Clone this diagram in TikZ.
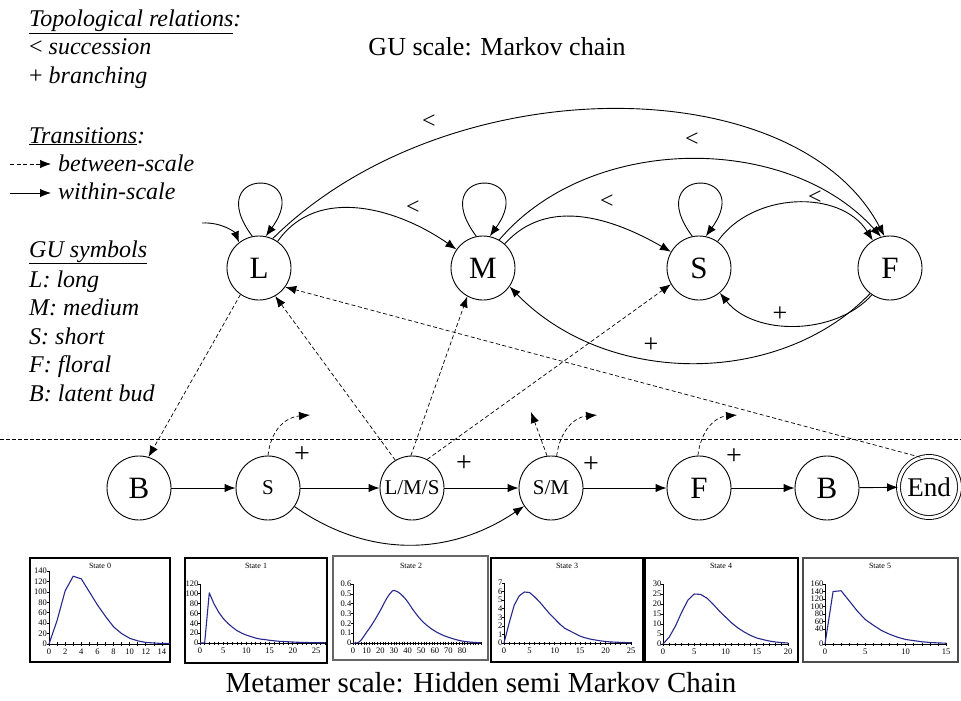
\documentclass[tikz,border=0pt]{standalone}
\usepackage{fontspec}
\setmainfont{Liberation Serif}
\usetikzlibrary{arrows.meta}
\definecolor{crvblue}{RGB}{40,40,140}
\begin{document}
\begin{tikzpicture}[x=1pt,y=1pt,
  st/.style={draw, circle, minimum size=64pt, inner sep=0pt, line width=0.9pt, font=\fontsize{31}{31}\selectfont},
  sst/.style={st, font=\fontsize{21}{21}\selectfont},
  tr/.style={-{Latex[length=11pt,width=8.5pt]}, line width=0.9pt},
  dtr/.style={tr, dash pattern=on 4pt off 2.5pt, line width=0.7pt},
  rel/.style={font=\fontsize{24}{24}\selectfont, inner sep=0pt},
  plus/.style={font=\fontsize{26}{26}\selectfont, inner sep=0pt},
  bplus/.style={font=\fontsize{28}{28}\selectfont, inner sep=0pt},
  leg/.style={anchor=base west, inner sep=0pt, font=\fontsize{24}{24}\selectfont\itshape},
  box/.style={draw, line width=1.2pt},
  ax/.style={line width=0.7pt},
  tk/.style={font=\fontsize{8.5}{8.5}\selectfont, inner sep=0pt},
  ttl/.style={font=\fontsize{8}{8}\selectfont, inner sep=0pt},
  crv/.style={draw=crvblue, line width=1.1pt, line join=round}
]
\useasboundingbox (0,0) rectangle (961,-701);

% ---------- legend ----------
\node[leg] (lg1) at (29,-27) {\underline{Topological relations}:};
\node[leg] (lg2) at (29,-55) {\textup{<} succession};
\node[leg] (lg3) at (29,-83) {\textup{+} branching};
\node[leg] (lg4) at (29,-143) {\underline{Transitions}:};
\node[leg] (lg5) at (58,-171) {between-scale};
\node[leg] (lg6) at (58,-199) {within-scale};
\coordinate (la1) at (10,-164); \coordinate (lb1) at (51,-164);
\coordinate (la2) at (10,-193); \coordinate (lb2) at (51,-193);
\draw[dtr] (la1) -- (lb1);
\draw[tr] (la2) -- (lb2);
\node[leg] (lg7) at (29,-257) {\underline{GU symbols}};
\node[leg] (lg8) at (29,-287) {L: long};
\node[leg] (lg9) at (29,-315) {M: medium};
\node[leg] (lg10) at (29,-344) {S: short};
\node[leg] (lg11) at (29,-372) {F: floral};
\node[leg] (lg12) at (29,-401) {B: latent bud};

% ---------- titles ----------
\node[anchor=base, inner sep=0pt, font=\fontsize{26}{26}\selectfont] (t1) at (497,-56) {GU scale: Markov chain};
\node[anchor=base, inner sep=0pt, font=\fontsize{29}{29}\selectfont] (t2) at (481,-692) {Metamer scale: Hidden semi Markov Chain};

% ---------- GU scale ----------
\node[st] (L) at (259,-268) {L};
\node[st] (M) at (483,-268) {M};
\node[st] (S) at (699,-268) {S};
\node[st] (F) at (890,-268) {F};

\foreach \n in {L,M,S}
  \draw[tr] (\n.102) .. controls +(-52,70) and +(50,69) .. (\n.78);
\coordinate (Lin) at (202,-223);
\draw[tr] (Lin) .. controls +(20,1) and +(-4,10) .. (L.128);

\draw[tr] (L) to[out=55,in=145] (M);
\draw[tr] (M) to[out=48,in=150] (S);
\draw[tr] (S) to[out=55,in=122] (F);
\draw[tr] (L.65) .. controls (446,-67) and (795,-67) .. (F.100);
\draw[tr] (M.60) .. controls (590,-133) and (788,-133) .. (F.106);
\draw[tr] (F.236) .. controls (835,-336) and (754,-336) .. (S.310);
\draw[tr] (F.232) .. controls (780,-387) and (607,-387) .. (M.-35);

\node[rel] at (429,-122) {<};
\node[rel] at (692,-140) {<};
\node[rel] at (413,-208) {<};
\node[rel] at (607,-202) {<};
\node[rel] at (815,-198) {<};
\node[plus] at (780,-314) {+};
\node[plus] at (651,-345) {+};

% ---------- separator ----------
\coordinate (sepa) at (0,-439); \coordinate (sepb) at (961,-439);
\draw[dash pattern=on 4pt off 2pt, line width=1pt] (sepa) -- (sepb);

% ---------- metamer scale ----------
\node[st] (B1) at (139,-488) {B};
\node[sst] (S2) at (268,-488) {S};
\node[sst] (LMS) at (412,-488) {L/M/S};
\node[sst] (SM) at (551,-488) {S/M};
\node[st] (F2) at (699,-488) {F};
\node[st] (B2) at (827,-488) {B};
\node[st, minimum size=61pt, double, double distance=3pt, font=\fontsize{27}{27}\selectfont] (End) at (929,-487) {End};

\draw[tr] (B1) -- (S2);
\draw[tr] (S2) -- (LMS);
\draw[tr] (LMS) -- (SM);
\draw[tr] (SM) -- (F2);
\draw[tr] (F2) -- (B2);
\draw[tr] (B2) -- (End);
\draw[tr] (S2) to[out=-35,in=-146] (SM);

\node[bplus] at (302,-455) {+};
\node[bplus] at (464,-464) {+};
\node[bplus] at (591,-465) {+};
\node[bplus] at (734,-457) {+};

% between-scale transitions
\draw[dtr] (L.235) -- (B1.73);
\draw[dtr] (LMS.121) -- (L.300);
\draw[dtr] (LMS.92) -- (M.241);
\draw[dtr] (LMS.62) -- (S.210);
\draw[dtr] (End.106) -- (L.324);

\coordinate (o1) at (310,-415);
\coordinate (o2) at (531,-412);
\coordinate (o3) at (597,-415);
\coordinate (o4) at (737,-415);
\draw[dtr] (S2.90) .. controls (271,-428) and (287,-417) .. (o1);
\draw[dtr] (SM.97) -- (o2);
\draw[dtr] (SM.80) .. controls (560,-430) and (575,-417) .. (o3);
\draw[dtr] (F2.92) .. controls (701,-430) and (715,-417) .. (o4);

% ---------- charts ----------
% State 0
\draw[box] (30,-558) rectangle (170,-662);
\node[ttl] at (100,-566) {State 0};
\begin{scope}[shift={(49,-644)}, x=8.07pt, y=0.5214pt]
  \draw[ax] (0,0) -- (15,0); \draw[ax] (0,0) -- (0,140);
  \foreach \i in {0,...,15} \draw[ax] (\i,0) +(0,2pt) -- +(0,-2pt);
  \foreach \v in {0,20,...,140} {\draw[ax] (0,\v) -- +(-2pt,0); \node[tk, anchor=east] at ([xshift=-2pt]0,\v) {\v};}
  \foreach \v in {0,2,...,14} \node[tk, anchor=north] at ([yshift=-5pt]\v,0) {\v};
  \draw[crv] (0,0) -- (1,45) -- (2,102) -- (3,130) -- (4,125) -- (5,100) -- (6,75) -- (7,53) -- (8,33) -- (9,20) -- (10,11) -- (11,6) -- (12,3) -- (13,2) -- (14,1) -- (15,1);
\end{scope}

% State 1
\draw[box] (185,-558) rectangle (327,-663);
\node[ttl] at (256,-566) {State 1};
\begin{scope}[shift={(200,-643)}, x=4.64pt, y=0.4917pt]
  \draw[ax] (0,0) -- (27,0); \draw[ax] (0,0) -- (0,120);
  \foreach \i in {0,...,27} \draw[ax] (\i,0) +(0,1.5pt) -- +(0,-1.5pt);
  \foreach \v in {0,20,...,120} {\draw[ax] (0,\v) -- +(-2pt,0); \node[tk, anchor=east] at ([xshift=-1.5pt]0,\v) {\v};}
  \foreach \v in {0,5,...,25} \node[tk, anchor=north] at ([yshift=-5pt]\v,0) {\v};
  \draw[crv] (0,0) -- (1,0) -- (2,102) -- (3,80) -- (4,63) -- (5,50) -- (6,40) -- (7,32) -- (8,25) -- (9,20) -- (10,16) -- (11,13) -- (12,10) -- (13,8) -- (14,7) -- (15,5.5) -- (16,4.5) -- (17,3.5) -- (18,3) -- (19,2.5) -- (20,2) -- (21,1.5) -- (22,1.2) -- (23,1) -- (24,0.8) -- (25,0.6) -- (26,0.5) -- (27,0.4);
\end{scope}

% State 2
\draw[box, draw=black!60, line width=1.8pt] (333,-556) rectangle (488,-660);
\node[ttl] at (411,-566) {State 2};
\begin{scope}[shift={(353,-643)}, x=1.3625pt, y=98.3pt]
  \draw[ax] (0,0) -- (94,0); \draw[ax] (0,0) -- (0,0.6);
  \foreach \i in {0,2,...,94} \draw[ax] (\i,0) +(0,1.5pt) -- +(0,-1.5pt);
  \foreach \v in {0,0.1,0.2,0.3,0.4,0.5,0.6} {\draw[ax] (0,\v) -- +(-2pt,0); \node[tk, anchor=east] at ([xshift=-1.5pt]0,\v) {\v};}
  \foreach \v in {0,10,...,80} \node[tk, anchor=north] at ([yshift=-5pt]\v,0) {\v};
  \draw[crv] plot[smooth, tension=0.6] coordinates {(0,0) (3,0) (6,0.03) (9,0.09) (14,0.19) (20,0.33) (25,0.46) (29,0.53) (31,0.53) (34,0.51) (39,0.44) (45,0.32) (51,0.22) (58,0.14) (65,0.085) (73,0.045) (80,0.02) (87,0.008) (94,0.003)};
\end{scope}

% State 3
\draw[box] (491,-558) rectangle (643,-662);
\node[ttl] at (567,-566) {State 3};
\begin{scope}[shift={(504,-643)}, x=5.08pt, y=8.57pt]
  \draw[ax] (0,0) -- (25,0); \draw[ax] (0,0) -- (0,7);
  \foreach \i in {0,...,25} \draw[ax] (\i,0) +(0,1.5pt) -- +(0,-1.5pt);
  \foreach \v in {0,...,7} {\draw[ax] (0,\v) -- +(-2pt,0); \node[tk, anchor=east] at ([xshift=-1.5pt]0,\v) {\v};}
  \foreach \v in {0,5,...,25} \node[tk, anchor=north] at ([yshift=-5pt]\v,0) {\v};
  \draw[crv] (0,0) -- (1,2.3) -- (2,4.4) -- (3,5.5) -- (4,5.95) -- (5,5.9) -- (6,5.4) -- (7,4.8) -- (8,4.1) -- (9,3.4) -- (10,2.8) -- (11,2.2) -- (12,1.7) -- (13,1.4) -- (14,1.1) -- (15,0.8) -- (16,0.6) -- (17,0.45) -- (18,0.35) -- (19,0.25) -- (20,0.18) -- (21,0.12) -- (22,0.1) -- (23,0.07) -- (24,0.05) -- (25,0.03);
\end{scope}

% State 4
\draw[box] (645,-558) rectangle (798,-662);
\node[ttl] at (721,-566) {State 4};
\begin{scope}[shift={(663,-644)}, x=6.25pt, y=2pt]
  \draw[ax] (0,0) -- (20,0); \draw[ax] (0,0) -- (0,30);
  \foreach \i in {0,...,20} \draw[ax] (\i,0) +(0,1.5pt) -- +(0,-1.5pt);
  \foreach \v in {0,5,...,30} {\draw[ax] (0,\v) -- +(-2pt,0); \node[tk, anchor=east] at ([xshift=-1.5pt]0,\v) {\v};}
  \foreach \v in {0,5,...,20} \node[tk, anchor=north] at ([yshift=-5pt]\v,0) {\v};
  \draw[crv] (0,0) -- (1,3.5) -- (2,9) -- (3,16) -- (4,22) -- (5,25) -- (6,24.8) -- (7,23) -- (8,20) -- (9,16.5) -- (10,13.5) -- (11,10.5) -- (12,8) -- (13,6) -- (14,4.3) -- (15,3) -- (16,2.2) -- (17,1.5) -- (18,1) -- (19,0.7) -- (20,0.5);
\end{scope}

% State 5
\draw[box, draw=black!70] (803,-558) rectangle (958,-662);
\node[ttl] at (880,-566) {State 5};
\begin{scope}[shift={(825,-644)}, x=8.07pt, y=0.375pt]
  \draw[ax] (0,0) -- (15,0); \draw[ax] (0,0) -- (0,160);
  \foreach \i in {0,...,15} \draw[ax] (\i,0) +(0,1.5pt) -- +(0,-1.5pt);
  \foreach \v in {0,40,60,80,100,120,140,160} {\draw[ax] (0,\v) -- +(-2pt,0); \node[tk, anchor=east] at ([xshift=-1.5pt]0,\v) {\v};}
  \foreach \v in {0,5,...,15} \node[tk, anchor=north] at ([yshift=-5pt]\v,0) {\v};
  \draw[crv] (0,0) -- (1,140) -- (2,142) -- (3,115) -- (4,88) -- (5,65) -- (6,50) -- (7,36) -- (8,26) -- (9,18) -- (10,12) -- (11,9) -- (12,6) -- (13,4) -- (14,3) -- (15,2);
\end{scope}
\end{tikzpicture}
\end{document}
